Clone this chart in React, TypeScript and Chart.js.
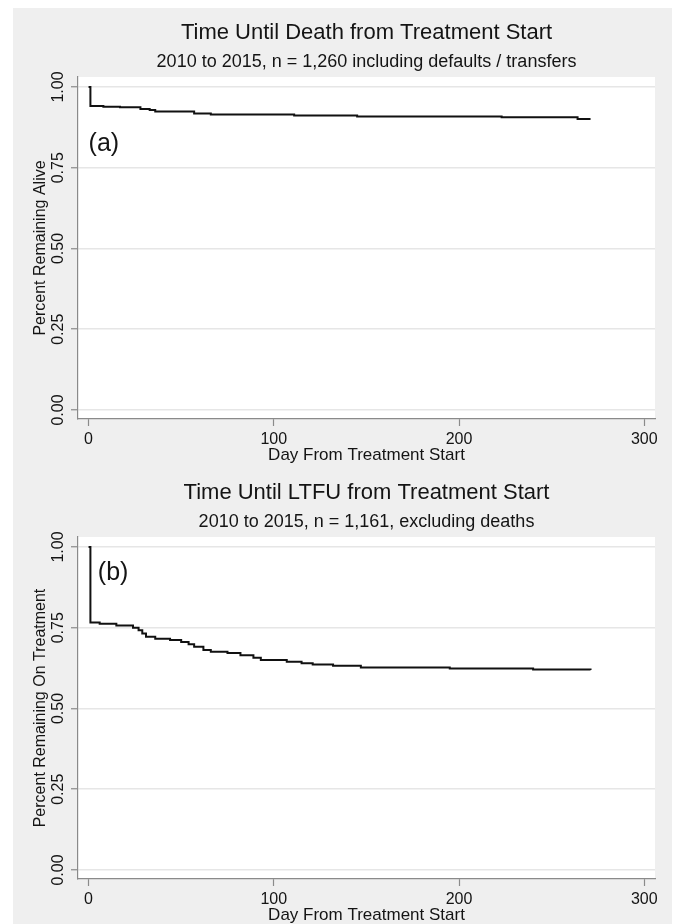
import React, { useEffect, useRef } from 'react';
import { Chart, registerables } from 'chart.js';
Chart.register(...registerables);

// ---- data ----
const deathDays = [0, 1, 8, 17, 28, 33, 36, 57, 66, 111, 145, 223, 264, 271];
const deathSurv = [1.0, 0.941, 0.939, 0.937, 0.932, 0.929, 0.924, 0.918, 0.915, 0.912, 0.909, 0.906, 0.901, 0.901];

const ltfuDays = [0, 1, 6, 15, 24, 27, 29, 31, 36, 44, 50, 54, 57, 62, 66, 75, 82, 89, 93, 107, 115, 121, 132, 147, 195, 240, 271];
const ltfuSurv = [1.0, 0.766, 0.762, 0.757, 0.75, 0.742, 0.732, 0.722, 0.716, 0.712, 0.706, 0.699, 0.691, 0.681, 0.676, 0.672, 0.665, 0.657, 0.65, 0.645, 0.64, 0.636, 0.632, 0.627, 0.624, 0.621, 0.619];

const xTicks = [0, 100, 200, 300];
const yTicks = [0, 0.25, 0.5, 0.75, 1.0];
const yTickLabels = ['0.00', '0.25', '0.50', '0.75', '1.00'];

const FONT = '"Liberation Sans", Arial, Helvetica, sans-serif';
const TEXT = '#141414';
const AXIS = '#8a8a8a';
const GRID = '#e6e6e6';

type PanelProps = {
  title: string;
  subtitle: string;
  yTitle: string;
  label: string;
  labelX: number;
  labelY: number;
  days: number[];
  surv: number[];
};

function Panel(p: PanelProps) {
  const ref = useRef<HTMLCanvasElement>(null);
  useEffect(() => {
    if (!ref.current) return;
    const decor = {
      id: 'decor',
      beforeDraw(chart: any) {
        const { ctx, chartArea: a } = chart;
        ctx.save();
        ctx.fillStyle = '#ffffff';
        ctx.fillRect(a.left, a.top, a.right - a.left, a.bottom - a.top);
        ctx.restore();
      },
      afterDraw(chart: any) {
        const { ctx, chartArea: a, scales } = chart;
        const cx = (a.left + a.right) / 2;
        ctx.save();
        ctx.fillStyle = TEXT;
        ctx.textAlign = 'center';
        ctx.textBaseline = 'middle';
        ctx.font = `22px ${FONT}`;
        ctx.fillText(p.title, cx, 33);
        ctx.font = `18px ${FONT}`;
        ctx.fillText(p.subtitle, cx, 62);
        ctx.textAlign = 'left';
        ctx.font = `25px ${FONT}`;
        ctx.fillText(p.label, scales.x.getPixelForValue(p.labelX), scales.y.getPixelForValue(p.labelY));
        ctx.restore();
      },
    };
    const chart = new Chart(ref.current, {
      type: 'line',
      data: {
        datasets: [
          {
            data: p.days.map((d, i) => ({ x: d, y: p.surv[i] })),
            borderColor: '#111111',
            borderWidth: 2,
            pointRadius: 0,
            stepped: true,
            fill: false,
          },
        ],
      },
      options: {
        animation: false,
        responsive: false,
        maintainAspectRatio: false,
        layout: { padding: { top: 77, right: 21, bottom: 0, left: 14 } },
        plugins: { legend: { display: false }, tooltip: { enabled: false }, title: { display: false } },
        scales: {
          x: {
            type: 'linear',
            min: -5.7,
            max: 305.8,
            afterBuildTicks: (s: any) => {
              s.ticks = xTicks.map((v) => ({ value: v }));
            },
            afterFit: (s: any) => {
              s.height = 51;
            },
            ticks: {
              color: TEXT,
              font: { family: FONT, size: 16 },
              padding: 4,
              maxRotation: 0,
              callback: (v: any) => String(v),
            },
            grid: { drawOnChartArea: false, drawTicks: true, tickLength: 7, tickColor: AXIS, tickWidth: 1.2 },
            border: { display: true, color: AXIS, width: 1.2 },
            title: {
              display: true,
              text: 'Day From Treatment Start',
              color: TEXT,
              font: { family: FONT, size: 17 },
              padding: { top: 0, bottom: 4 },
            },
          },
          y: {
            type: 'linear',
            min: -0.028,
            max: 1.031,
            afterBuildTicks: (s: any) => {
              s.ticks = yTicks.map((v) => ({ value: v }));
            },
            afterFit: (s: any) => {
              s.width = 64;
            },
            ticks: {
              color: TEXT,
              font: { family: FONT, size: 16 },
              minRotation: 90,
              maxRotation: 90,
              crossAlign: 'center',
              padding: -3,
              callback: (v: any) => {
                const i = yTicks.indexOf(Number(v));
                return i >= 0 ? yTickLabels[i] : '';
              },
            },
            grid: { color: GRID, lineWidth: 1.5, drawTicks: true, tickLength: 7, tickColor: AXIS, tickWidth: 1.2 },
            border: { display: true, color: AXIS, width: 1.2 },
            title: {
              display: true,
              text: p.yTitle,
              color: TEXT,
              font: { family: FONT, size: 16 },
              padding: { top: 17, bottom: 0 },
            },
          },
        },
      },
      plugins: [decor],
    } as any);
    return () => chart.destroy();
  }, []);
  return <canvas ref={ref} width={676} height={470} style={{ display: 'block', width: 676, height: 470 }} />;
}

export default function App() {
  return (
    <div style={{ position: 'fixed', left: 0, top: 0, width: 676, height: 924, background: '#ffffff', overflow: 'hidden' }}>
      <div style={{ position: 'absolute', left: 13, top: 8, right: 4, bottom: 0, background: '#efefef' }} />
      <div style={{ position: 'absolute', left: 0, top: 0 }}>
        <Panel
          title="Time Until Death from Treatment Start"
          subtitle="2010 to 2015, n = 1,260 including defaults / transfers"
          yTitle="Percent Remaining Alive"
          label="(a)"
          labelX={0}
          labelY={0.824}
          days={deathDays}
          surv={deathSurv}
        />
      </div>
      <div style={{ position: 'absolute', left: 0, top: 460 }}>
        <Panel
          title="Time Until LTFU from Treatment Start"
          subtitle="2010 to 2015, n = 1,161, excluding deaths"
          yTitle="Percent Remaining On Treatment"
          label="(b)"
          labelX={5}
          labelY={0.92}
          days={ltfuDays}
          surv={ltfuSurv}
        />
      </div>
    </div>
  );
}
